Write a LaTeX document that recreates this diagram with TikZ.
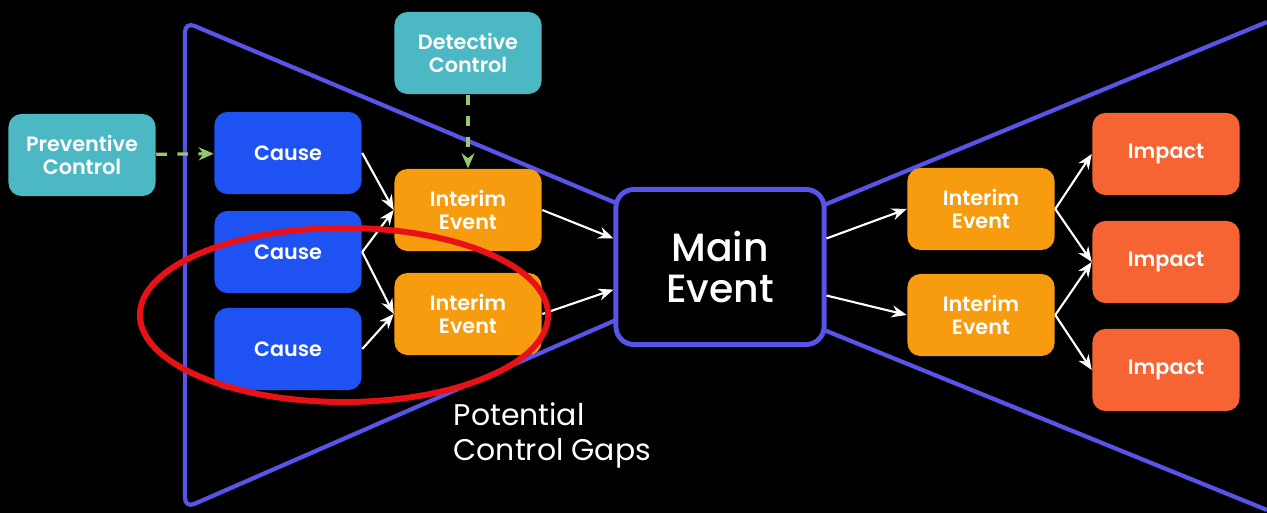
\documentclass[tikz,border=0pt]{standalone}
\usepackage{fontspec}
\setmainfont{Poppins}
\IfFontExistsTF{Poppins Medium}{\newfontfamily\mainfont{Poppins Medium}}{\newfontfamily\mainfont{Poppins}}
\IfFontExistsTF{Poppins SemiBold}{\newfontfamily\boxfont{Poppins SemiBold}}{\newfontfamily\boxfont{Poppins}}
\usepackage{tikz}
\usetikzlibrary{arrows.meta}

\definecolor{bowblue}{RGB}{88,84,232}
\definecolor{ctrlteal}{RGB}{76,184,196}
\definecolor{causeblue}{RGB}{31,82,242}
\definecolor{interimorange}{RGB}{246,156,14}
\definecolor{impactred}{RGB}{246,100,52}
\definecolor{ctrlgreen}{RGB}{150,200,110}
\definecolor{gapred}{RGB}{232,18,22}

\begin{document}
\begin{tikzpicture}[x=0.01cm,y=-0.01cm,
    box/.style={rounded corners=0.13cm,minimum width=1.47cm,minimum height=0.82cm,
        align=center,text=white,font=\boxfont\fontsize{5.9}{6.6}\selectfont},
    ctrlbox/.style={box,fill=ctrlteal},
    causebox/.style={box,fill=causeblue},
    interimbox/.style={box,fill=interimorange},
    impactbox/.style={box,fill=impactred},
    flow/.style={-{Stealth[length=1.5mm,width=1.2mm]},white,line width=0.6pt},
    ctrlflow/.style={-{Stealth[length=1.5mm,width=1.3mm]},ctrlgreen,dashed,line width=0.9pt}]
        \useasboundingbox (0,0) rectangle (1267,513);
        \fill[black] (0,0) rectangle (1267,513);
        % bow tie outline
        \draw[bowblue,line width=1.2pt,rounded corners=0.1cm] (616,203) -- (185,22) -- (185,508) -- (616,320);
        \draw[bowblue,line width=1.2pt] (824,205) -- (1267,22);
        \draw[bowblue,line width=1.2pt] (824,330) -- (1267,510);
        % main event
        \node[draw=bowblue,fill=black,line width=1.4pt,rounded corners=0.18cm,minimum width=2.08cm,
            minimum height=1.55cm,align=center,text=white,font=\mainfont\fontsize{11.2}{11.4}\selectfont] (main) at (720,267) {Main\\Event};
        % controls
        \node[ctrlbox] (prev) at (82,155) {Preventive\\Control};
        \node[ctrlbox] (det) at (468,53) {Detective\\Control};
        % causes
        \node[causebox] (causeA) at (288,153) {Cause};
        \node[causebox] (causeB) at (288,252) {Cause};
        \node[causebox] (causeC) at (288,349) {Cause};
        % interim events
        \node[interimbox] (ieA) at (468,210) {Interim\\Event};
        \node[interimbox] (ieB) at (468,314) {Interim\\Event};
        \node[interimbox] (ieC) at (981,209) {Interim\\Event};
        \node[interimbox] (ieD) at (981,315) {Interim\\Event};
        % impacts
        \node[impactbox] (impA) at (1166,154) {Impact};
        \node[impactbox] (impB) at (1166,262) {Impact};
        \node[impactbox] (impC) at (1166,370) {Impact};
        % arrows
        \draw[ctrlflow] (prev) -- (causeA);
        \draw[ctrlflow] (det) -- (ieA);
        \draw[flow] (causeA.east) -- (ieA.west);
        \draw[flow] (causeB.east) -- (ieA.west);
        \draw[flow] (causeB.east) -- (ieB.west);
        \draw[flow] (causeC.east) -- (ieB.west);
        \draw[flow] (ieA.east) -- (main.165);
        \draw[flow] (ieB.east) -- (main.192);
        \draw[flow] (main.15) -- (ieC.west);
        \draw[flow] (main.-15) -- (ieD.west);
        \draw[flow] (ieC.east) -- (impA.west);
        \draw[flow] (ieC.east) -- (impB.west);
        \draw[flow] (ieD.east) -- (impB.west);
        \draw[flow] (ieD.east) -- (impC.west);
        % gaps
        \node[anchor=north west,align=left,text=white,inner sep=0pt,font=\fontsize{8.5}{10}\selectfont] (gaps) at (453,402) {Potential\\Control Gaps};
        \draw[gapred,line width=1.7pt] (344,315) ellipse (2.04cm and 0.87cm);
\end{tikzpicture}
\end{document}
